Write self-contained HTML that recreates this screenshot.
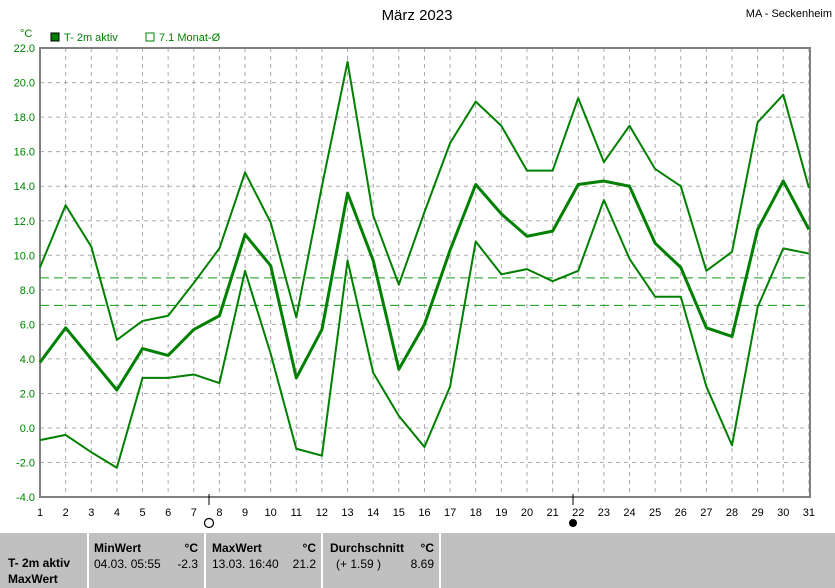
<!DOCTYPE html>
<html><head><meta charset="utf-8"><style>
body{margin:0;background:#fff;width:835px;height:588px;overflow:hidden;font-family:"Liberation Sans",sans-serif}
svg{position:absolute;left:0;top:0}
</style></head><body>
<svg id="s" width="835" height="588" xmlns="http://www.w3.org/2000/svg" font-family="Liberation Sans, sans-serif">
<rect x="0" y="533" width="835" height="55" fill="#c0c0c0"/>
<g stroke="#fff" stroke-width="2"><line x1="88" y1="533" x2="88" y2="588"/><line x1="205" y1="533" x2="205" y2="588"/><line x1="322" y1="533" x2="322" y2="588"/><line x1="440" y1="533" x2="440" y2="588"/></g>
<g font-size="12" fill="#000">
<text x="8" y="567" font-weight="bold">T- 2m aktiv</text>
<text x="8" y="583" font-weight="bold">MaxWert</text>
<text x="94" y="552" font-weight="bold">MinWert</text><text x="198" y="552" font-weight="bold" text-anchor="end">°C</text>
<text x="94" y="568">04.03.  05:55</text><text x="198" y="568" text-anchor="end">-2.3</text>
<text x="212" y="552" font-weight="bold">MaxWert</text><text x="316" y="552" font-weight="bold" text-anchor="end">°C</text>
<text x="212" y="568">13.03.  16:40</text><text x="316" y="568" text-anchor="end">21.2</text>
<text x="330" y="552" font-weight="bold">Durchschnitt</text><text x="434" y="552" font-weight="bold" text-anchor="end">°C</text>
<text x="336" y="568">(+ 1.59 )</text><text x="434" y="568" text-anchor="end">8.69</text>
<text x="417" y="20" font-size="15" text-anchor="middle">März 2023</text>
<text x="832" y="17" font-size="11" text-anchor="end">MA - Seckenheim</text>
</g>
<text x="20" y="37" font-size="11" fill="#008000">°C</text>
<rect x="51" y="33" width="8" height="8" fill="#008000" stroke="#000"/>
<text x="64" y="41" font-size="11" fill="#008000">T- 2m aktiv</text>
<rect x="146" y="33" width="8" height="8" fill="none" stroke="#008000"/>
<text x="159" y="41" font-size="11" fill="#008000">7.1 Monat-Ø</text>
<g id="g"></g>
<circle cx="209" cy="523" r="4.5" fill="#fff" stroke="#000" stroke-width="1.2"/>
<circle cx="573" cy="523" r="4" fill="#000"/>
<line x1="209" y1="494" x2="209" y2="505" stroke="#000"/>
<line x1="573" y1="494" x2="573" y2="505" stroke="#000"/>
</svg>
<script>
const g=document.getElementById('g');let h='';
const X=d=>40+(d-1)*25.63,Y=v=>428-v*17.27;
for(let d=2;d<=31;d++)h+=`<line x1="${X(d)}" y1="48" x2="${X(d)}" y2="497" stroke="#aaa" stroke-dasharray="4,4"/>`;
for(let v=-4;v<=22;v+=2){h+=`<line x1="40" y1="${Y(v)}" x2="810" y2="${Y(v)}" stroke="#aaa" stroke-dasharray="4,4"/>`;
h+=`<text x="35" y="${Y(v)+4}" font-size="11" fill="#008000" text-anchor="end">${v.toFixed(1)}</text>`;}
for(let d=1;d<=31;d++)h+=`<text x="${X(d)}" y="516" font-size="11" text-anchor="middle">${d}</text>`;
h+=`<rect x="40" y="48" width="770" height="449" fill="none" stroke="#808080" stroke-width="2"/>`;
h+=`<line x1="40" y1="${Y(8.69)}" x2="810" y2="${Y(8.69)}" stroke="#129a12" stroke-dasharray="9,5"/>`;
h+=`<line x1="40" y1="${Y(7.1)}" x2="810" y2="${Y(7.1)}" stroke="#129a12" stroke-dasharray="9,5"/>`;
const mean=[3.8,5.8,4.0,2.2,4.6,4.2,5.7,6.5,11.2,9.4,2.9,5.7,13.6,9.7,3.4,6.0,10.3,14.1,12.4,11.1,11.4,14.1,14.3,14.0,10.7,9.3,5.8,5.3,11.5,14.3,11.5];
const mx=[9.3,12.9,10.5,5.1,6.2,6.5,8.4,10.4,14.8,11.9,6.4,14.0,21.2,12.3,8.3,12.5,16.5,18.9,17.5,14.9,14.9,19.1,15.4,17.5,15.0,14.0,9.1,10.2,17.7,19.3,13.9];
const mn=[-0.7,-0.4,-1.4,-2.3,2.9,2.9,3.1,2.6,9.1,4.3,-1.2,-1.6,9.7,3.2,0.7,-1.1,2.4,10.8,8.9,9.2,8.5,9.1,13.2,9.8,7.6,7.6,2.4,-1.0,7.0,10.4,10.1];
const P=(a,w)=>`<polyline fill="none" stroke="#008000" stroke-width="${w}" stroke-linejoin="round" points="${a.map((v,i)=>X(i+1)+','+Y(v)).join(' ')}"/>`;
h+=P(mx,2)+P(mn,2)+P(mean,3);
g.innerHTML=h;
</script>
</body></html>
